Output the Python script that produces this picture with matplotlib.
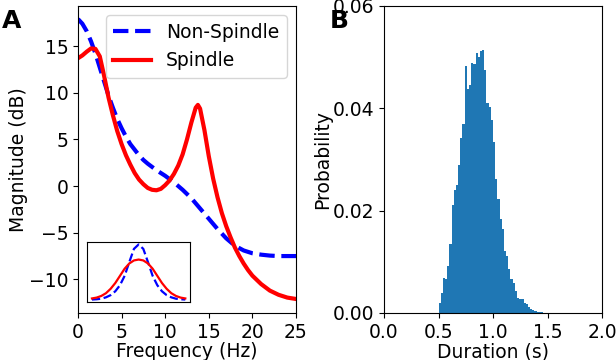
import numpy as np
import matplotlib
matplotlib.use("Agg")
import matplotlib.pyplot as plt

plt.rcParams['font.size'] = 13.5
plt.rcParams['axes.labelpad'] = 0.5

# ---- Panel A: espectro (dB) ----
frecuencia_ns = [0, 0.5, 1, 1.5, 2, 2.5, 3, 3.5, 4, 4.5, 5, 5.5, 6, 6.5, 7, 7.5, 8, 9, 10,
                 11, 12, 13, 14, 15, 16, 17, 18, 19, 20, 21, 22, 23, 24, 25]
mag_no_spindle = [17.9, 17.4, 16.6, 15.5, 14.2, 12.7, 11.2, 9.7, 8.4, 7.2, 6.2, 5.3, 4.5, 3.9,
                  3.3, 2.8, 2.4, 1.7, 1.1, 0.4, -0.4, -1.3, -2.4, -3.5, -4.6, -5.6, -6.4, -6.9,
                  -7.2, -7.35, -7.45, -7.5, -7.5, -7.5]

frecuencia_sp = [0, 0.5, 1, 1.5, 2, 2.5, 3, 3.5, 4, 4.5, 5, 5.5, 6, 6.5, 7, 7.5, 8, 8.5, 9,
                 9.5, 10, 10.5, 11, 11.5, 12, 12.5, 13, 13.5, 13.75, 14, 14.5, 15, 15.5, 16,
                 16.5, 17, 17.5, 18, 18.5, 19, 19.5, 20, 21, 22, 23, 24, 25]
mag_spindle = [13.7, 14.0, 14.4, 14.75, 14.7, 13.9, 11.8, 9.5, 7.6, 5.9, 4.5, 3.3, 2.3, 1.4,
               0.7, 0.2, -0.2, -0.4, -0.45, -0.3, 0.1, 0.6, 1.3, 2.2, 3.4, 5.0, 6.8, 8.4, 8.7,
               8.3, 6.0, 3.2, 0.8, -1.2, -2.9, -4.3, -5.5, -6.6, -7.5, -8.3, -9.0, -9.6, -10.5,
               -11.2, -11.65, -11.95, -12.1]

# inset (forma de los picos, sin ejes)
t_inset = [-1.0, -0.9, -0.8, -0.7, -0.6, -0.5, -0.4, -0.3, -0.2, -0.1, 0.0,
           0.1, 0.2, 0.3, 0.4, 0.5, 0.6, 0.7, 0.8, 0.9, 1.0]
inset_no_spindle = [0.0, 0.005, 0.015, 0.04, 0.08, 0.15, 0.26, 0.43, 0.68, 0.92, 1.0,
                    0.92, 0.68, 0.43, 0.26, 0.15, 0.08, 0.04, 0.015, 0.005, 0.0]
inset_spindle = [0.02, 0.035, 0.065, 0.115, 0.195, 0.30, 0.43, 0.56, 0.655, 0.71, 0.726,
                 0.71, 0.655, 0.56, 0.43, 0.30, 0.195, 0.115, 0.065, 0.035, 0.02]

# ---- Panel B: histograma de duraciones ----
bin_inicio = 0.5
bin_ancho = 0.02
probabilidad = [0.0020, 0.0040, 0.0069, 0.0066, 0.0091, 0.0134, 0.0212, 0.0241, 0.0250, 0.0290,
                0.0342, 0.0370, 0.0482, 0.0438, 0.0445, 0.0488, 0.0487, 0.0508, 0.0500, 0.0512,
                0.0513, 0.0474, 0.0410, 0.0402, 0.0378, 0.0334, 0.0262, 0.0223, 0.0184, 0.0165,
                0.0122, 0.0112, 0.0085, 0.0066, 0.0059, 0.0042, 0.0030, 0.0027, 0.0027, 0.0020,
                0.0018, 0.0011, 0.0008, 0.0005, 0.0003, 0.0002, 0.00015, 0.0001, 0.00005, 0.00003]

fig = plt.figure(figsize=(6.16, 3.6), dpi=100)
ax1 = fig.add_axes([0.1266, 0.1306, 0.3539, 0.8528])
ax2 = fig.add_axes([0.6234, 0.1306, 0.3539, 0.8528])

ax1.plot(frecuencia_ns, mag_no_spindle, '--', color='blue', lw=3, label='Non-Spindle')
ax1.plot(frecuencia_sp, mag_spindle, '-', color='red', lw=3, label='Spindle')
ax1.set_xlim(0, 25)
ax1.set_ylim(-13.6, 19.3)
ax1.set_xticks([0, 5, 10, 15, 20, 25])
ax1.set_yticks([-10, -5, 0, 5, 10, 15])
ax1.set_xlabel('Frequency (Hz)')
ax1.set_ylabel('Magnitude (dB)')
ax1.legend(loc='upper right')

axin = fig.add_axes([0.1417, 0.1603, 0.1667, 0.1683])
axin.plot(t_inset, inset_no_spindle, '--', color='blue', lw=1.6)
axin.plot(t_inset, inset_spindle, '-', color='red', lw=1.6)
axin.set_xticks([])
axin.set_yticks([])

centros = [bin_inicio + bin_ancho * (k + 0.5) for k in range(len(probabilidad))]
ax2.bar(centros, probabilidad, width=bin_ancho, color='C0')
ax2.set_xlim(0, 2.0)
ax2.set_ylim(0, 0.06)
ax2.set_xticks([0.0, 0.5, 1.0, 1.5, 2.0])
ax2.set_yticks([0.0, 0.02, 0.04, 0.06])
ax2.set_xlabel('Duration (s)')
ax2.set_ylabel('Probability')

fig.text(0.003, 0.975, 'A', fontsize=18, fontweight='bold', va='top')
fig.text(0.535, 0.975, 'B', fontsize=18, fontweight='bold', va='top')

fig.savefig('out.png', dpi=100)
